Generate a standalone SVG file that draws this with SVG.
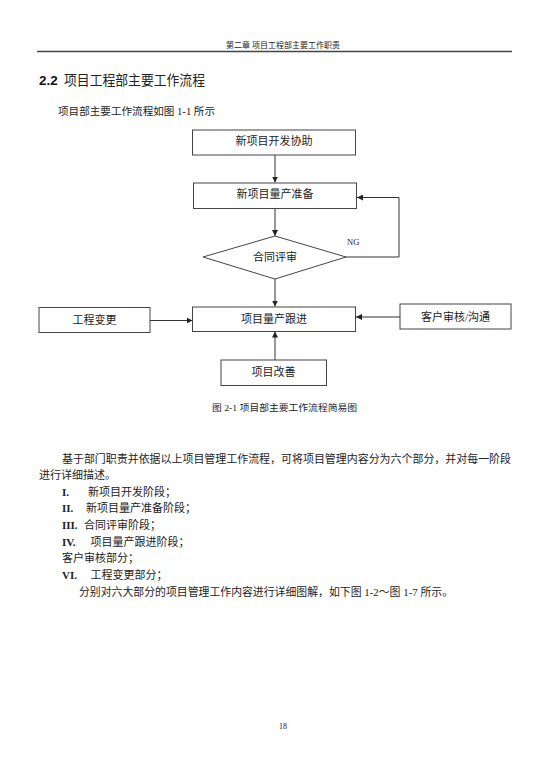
<svg xmlns="http://www.w3.org/2000/svg" width="550" height="778" viewBox="0 0 550 778">
<defs>
<style>
.t{font-family:"Liberation Serif","Noto Sans CJK SC",serif;fill:#222}
.box{fill:#fff;stroke:#444;stroke-width:1}
.ln{fill:none;stroke:#333;stroke-width:1}
.bl{font-size:11px;text-anchor:middle}
.p{font-size:11px}
.rn{font-weight:bold}
</style>
<marker id="ah" viewBox="0 0 10 10" refX="10" refY="5" markerWidth="6" markerHeight="6" markerUnits="userSpaceOnUse" orient="auto">
<path d="M0,0 L10,5 L0,10 z" fill="#222"/>
</marker>
</defs>
<rect width="550" height="778" fill="#fff"/>

<text class="t" x="283" y="48" font-size="8" text-anchor="middle" fill="#555">第二章 项目工程部主要工作职责</text>
<line x1="37" y1="51.5" x2="512" y2="51.5" stroke="#444" stroke-width="1.4"/>

<text x="39" y="84.5" font-size="13.5" font-family="Liberation Sans, Arial, sans-serif" font-weight="bold" fill="#111">2.2</text>
<text class="t" x="64" y="84.5" font-size="13.5" textLength="141" lengthAdjust="spacingAndGlyphs">项目工程部主要工作流程</text>

<text class="t" x="58" y="115" font-size="10.5" textLength="157" lengthAdjust="spacingAndGlyphs">项目部主要工作流程如图 1-1 所示</text>

<g id="connectors">
<line class="ln" x1="275" y1="155" x2="275" y2="182.5" marker-end="url(#ah)"/>
<line class="ln" x1="275" y1="208.5" x2="275" y2="236" marker-end="url(#ah)"/>
<polyline class="ln" points="346,257 399,257 399,197.5 357,197.5" marker-end="url(#ah)"/>
<line class="ln" x1="275" y1="279" x2="275" y2="306.5" marker-end="url(#ah)"/>
<line class="ln" x1="150" y1="320.5" x2="192.5" y2="320.5" marker-end="url(#ah)"/>
<line class="ln" x1="400" y1="317" x2="356" y2="317" marker-end="url(#ah)"/>
<line class="ln" x1="275" y1="360" x2="275" y2="331.5" marker-end="url(#ah)"/>
<text class="t" x="347" y="245" font-size="8.5">NG</text>
</g>

<g id="n1">
<rect class="box" x="192.5" y="130" width="163" height="25"/>
<text class="t bl" x="274" y="145">新项目开发协助</text>
</g>
<g id="n2">
<rect class="box" x="193.5" y="183" width="163" height="25.5"/>
<text class="t bl" x="275" y="197.5">新项目量产准备</text>
</g>
<g id="n3">
<polygon class="box" points="275,236 346,257 275,279 203,257"/>
<text class="t bl" x="275" y="260.5">合同评审</text>
</g>
<g id="n4">
<rect class="box" x="192.5" y="307" width="163" height="24.5"/>
<text class="t bl" x="274" y="323">项目量产跟进</text>
</g>
<g id="n5">
<rect class="box" x="39" y="307.5" width="111" height="25"/>
<text class="t bl" x="94.5" y="324">工程变更</text>
</g>
<g id="n6">
<rect class="box" x="400" y="304" width="111" height="25"/>
<text class="t bl" x="455.5" y="320.5">客户审核/沟通</text>
</g>
<g id="n7">
<rect class="box" x="221" y="360" width="105.5" height="25.5"/>
<text class="t bl" x="273.5" y="376">项目改善</text>
</g>

<text class="t" x="212" y="411" font-size="9" fill="#333" textLength="145" lengthAdjust="spacingAndGlyphs">图 2-1  项目部主要工作流程简易图</text>

<text class="t p" x="62" y="463" textLength="449" lengthAdjust="spacingAndGlyphs">基于部门职责并依据以上项目管理工作流程，可将项目管理内容分为六个部分，并对每一阶段</text>
<text class="t p" x="39" y="479">进行详细描述。</text>
<text class="t p rn" x="62" y="496">I.</text>
<text class="t p" x="88" y="496">新项目开发阶段；</text>
<text class="t p rn" x="62" y="512">II.</text>
<text class="t p" x="86" y="512">新项目量产准备阶段；</text>
<text class="t p rn" x="62" y="529">III.</text>
<text class="t p" x="84" y="529">合同评审阶段；</text>
<text class="t p rn" x="62" y="545.5">IV.</text>
<text class="t p" x="90.5" y="545.5">项目量产跟进阶段；</text>
<text class="t p" x="62" y="562">客户审核部分；</text>
<text class="t p rn" x="62" y="578.5">VI.</text>
<text class="t p" x="90.5" y="578.5">工程变更部分；</text>
<text class="t p" x="79" y="596" textLength="374" lengthAdjust="spacingAndGlyphs">分别对六大部分的项目管理工作内容进行详细图解，如下图 1-2～图 1-7 所示。</text>

<text class="t" x="283" y="729" font-size="8" text-anchor="middle" fill="#555">18</text>
</svg>
